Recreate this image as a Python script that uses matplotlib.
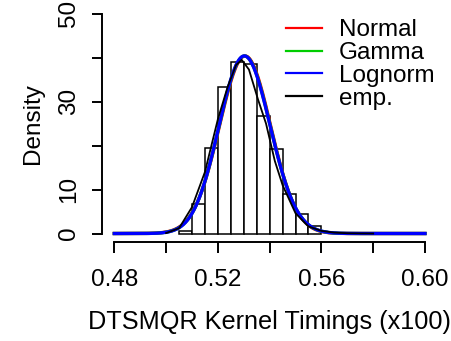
import math
import numpy as np
import matplotlib
matplotlib.use("Agg")
import matplotlib.pyplot as plt

plt.rcParams['font.family'] = ['Liberation Sans', 'DejaVu Sans']

# ---- data ----
bin_edges = [0.505, 0.510, 0.515, 0.520, 0.525, 0.530, 0.535, 0.540, 0.545, 0.550, 0.555, 0.560]
bin_density = [0.5, 6.7, 19.4, 33.3, 39.0, 38.5, 26.7, 19.2, 9.0, 4.45, 1.8]

# fitted distribution parameters
fit_mean = 0.5305
fit_sd = 0.00988

emp_x = [0.500, 0.505, 0.510, 0.515, 0.520, 0.5238, 0.527, 0.5292, 0.532, 0.5355, 0.5386,
         0.542, 0.545, 0.550, 0.555, 0.560, 0.565, 0.570, 0.575, 0.580]
emp_y = [0.1, 1.2, 6.0, 14.0, 26.0, 33.4, 38.3, 39.5, 37.3, 30.5, 25.0,
         16.5, 11.0, 4.6, 1.6, 0.6, 0.2, 0.06, 0.02, 0.0]

xlim_data = (0.48, 0.60)
ylim_data = (0, 50)
xticks = [0.48, 0.50, 0.52, 0.54, 0.56, 0.58, 0.60]
xticklabels = ["0.48", "", "0.52", "", "0.56", "", "0.60"]
yticks = [0, 10, 20, 30, 40, 50]
yticklabels = ["0", "10", "", "30", "", "50"]
legend_labels = ["Normal", "Gamma", "Lognorm", "emp."]
legend_colors = ["#ff0000", "#00cd00", "#0000ff", "#000000"]

# ---- curves from parameters ----
xs = np.linspace(xlim_data[0], xlim_data[1], 600)
norm_pdf = np.exp(-0.5 * ((xs - fit_mean) / fit_sd) ** 2) / (fit_sd * math.sqrt(2 * math.pi))
k = (fit_mean / fit_sd) ** 2
theta = fit_sd ** 2 / fit_mean
gamma_pdf = np.exp((k - 1) * np.log(xs) - xs / theta - math.lgamma(k) - k * math.log(theta))
slog = math.sqrt(math.log(1 + (fit_sd / fit_mean) ** 2))
mlog = math.log(fit_mean) - slog ** 2 / 2
lnorm_pdf = np.exp(-0.5 * ((np.log(xs) - mlog) / slog) ** 2) / (xs * slog * math.sqrt(2 * math.pi))

W, H = 451, 341
fig = plt.figure(figsize=(W / 100, H / 100), dpi=100)
left_px, right_px, top_px, bot_px = 101.9, 437.4, 4.9, 242.3
ax = fig.add_axes([left_px / W, 1 - bot_px / H, (right_px - left_px) / W, (bot_px - top_px) / H])

xr = xlim_data[1] - xlim_data[0]
yr = ylim_data[1] - ylim_data[0]
ax.set_xlim(xlim_data[0] - 0.04 * xr, xlim_data[1] + 0.04 * xr)
ax.set_ylim(ylim_data[0] - 0.04 * yr, ylim_data[1] + 0.04 * yr)

widths = np.diff(bin_edges)
ax.bar(bin_edges[:-1], bin_density, width=widths, align='edge', facecolor='white',
       edgecolor='black', linewidth=1.1, zorder=2)

ax.plot(xs, norm_pdf, color=legend_colors[0], lw=2.4, zorder=3)
ax.plot(xs, gamma_pdf, color=legend_colors[1], lw=2.4, zorder=3)
ax.plot(xs, lnorm_pdf, color=legend_colors[2], lw=2.4, zorder=4)
ax.plot(emp_x, emp_y, color=legend_colors[3], lw=1.3, zorder=5)

for s in ['top', 'right']:
    ax.spines[s].set_visible(False)
ax.spines['bottom'].set_bounds(*xlim_data)
ax.spines['left'].set_bounds(*ylim_data)
for s in ['bottom', 'left']:
    ax.spines[s].set_linewidth(1.4)

fs = 17.5
ax.set_xticks(xticks)
ax.set_xticklabels(xticklabels, fontsize=fs)
ax.set_yticks(yticks)
ax.set_yticklabels(yticklabels, fontsize=fs, rotation=90, va='center')
ax.tick_params(axis='x', length=8, width=1.4, pad=11)
ax.tick_params(axis='y', length=7.5, width=1.4, pad=8)

ax.set_xlabel("DTSMQR Kernel Timings (x100)", fontsize=18.2, labelpad=14)
ax.set_ylabel("Density", fontsize=fs, labelpad=10)

# legend drawn by hand (R-style tight rows)
row0_px, row_step_px = 27.7, 22.8
line_x0, line_x1, text_x = 286, 322, 339
cap_half = 0.716 * fs * 100 / 72 / 2
for i, (lab, col) in enumerate(zip(legend_labels, legend_colors)):
    yc = row0_px + i * row_step_px
    yf = 1 - yc / H
    fig.add_artist(plt.Line2D([line_x0 / W, line_x1 / W], [yf, yf], color=col, lw=1.6,
                              transform=fig.transFigure))
    fig.text(text_x / W, 1 - (yc + cap_half) / H, lab, fontsize=fs, va='baseline', ha='left')

fig.savefig("out.png", dpi=100)
